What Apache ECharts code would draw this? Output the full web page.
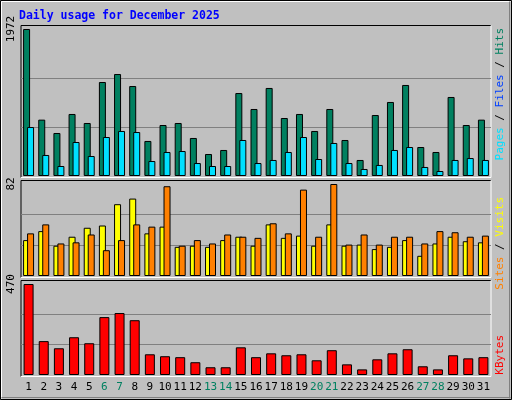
<!DOCTYPE html>
<html><head><meta charset="utf-8">
<script src="https://cdn.jsdelivr.net/npm/echarts@6/dist/echarts.min.js"></script>
<style>html,body{margin:0;padding:0;background:#c0c0c0}#c{width:512px;height:400px}</style>
</head><body><div id="c"></div>
<script>
const days = ['1','2','3','4','5','6','7','8','9','10','11','12','13','14','15','16','17','18','19','20','21','22','23','24','25','26','27','28','29','30','31'];
const weekend = ['6','7','13','14','20','21','27','28'];
const hits = [1972,756,577,832,711,1261,1368,1207,470,684,711,510,295,349,1113,899,1181,778,832,604,899,483,215,818,993,1221,389,322,1060,684,756];
const pages = [657,282,134,456,268,523,604,590,201,322,335,174,134,134,483,174,215,322,523,228,443,174,94,148,349,389,121,67,215,241,215];
const visits = [32,40,27,35,43,45,64,69,38,44,26,27,26,32,35,27,46,34,36,27,46,27,28,24,26,32,18,29,35,31,30];
const sites = [38,46,29,30,37,23,32,46,44,80,27,32,29,37,35,34,47,38,77,35,82,28,37,28,35,35,29,40,39,35,36];
const kbytes = [470,175,138,195,164,299,320,283,107,97,92,66,40,40,143,92,112,102,107,76,128,55,29,81,112,133,45,29,102,86,92];
const maxes = [1972, 82, 470];

const font = '"DejaVu Sans Mono", monospace';
const grids = [
  {left:21, right:21, top:29, height:147},
  {left:21, right:21, top:184, height:92},
  {left:21, right:21, top:284, height:91}
];
const xAxis = grids.map((g,i)=>({
  type:'category', gridIndex:i, data:days, boundaryGap:true,
  axisLine:{show:false}, axisTick:{show:false},
  axisLabel: i===2 ? {show:true, margin:7, fontFamily:font, fontSize:11,
     color:(v)=>weekend.includes(v)?'#008060':'#000000', interval:0} : {show:false}
}));
const yAxis = maxes.map((m,i)=>({
  type:'value', gridIndex:i, min:0, max:m, interval:m/3,
  axisLine:{show:false}, axisTick:{show:false},
  axisLabel:{rotate:90, margin:4, fontFamily:font, fontSize:11, color:'#000',
    showMinLabel:false, showMaxLabel:true,
    formatter:(v)=> Math.abs(v-m)<1e-6 ? String(m) : ''},
  splitLine:{show:true, lineStyle:{color:['transparent','#808080','#808080','transparent'], width:1}}
}));
const bs = (c)=>({color:c, borderColor:'#000', borderWidth:1});
const series = [
  {type:'bar', name:'Hits', xAxisIndex:0, yAxisIndex:0, data:hits, barWidth:7, barGap:'-43%', itemStyle:bs('#008060')},
  {type:'bar', name:'Pages', xAxisIndex:0, yAxisIndex:0, data:pages, barWidth:7, itemStyle:bs('#00e0ff')},
  {type:'bar', name:'Visits', xAxisIndex:1, yAxisIndex:1, data:visits, barWidth:7, barGap:'-43%', itemStyle:bs('#ffff00')},
  {type:'bar', name:'Sites', xAxisIndex:1, yAxisIndex:1, data:sites, barWidth:7, itemStyle:bs('#ff8000')},
  {type:'bar', name:'KBytes', xAxisIndex:2, yAxisIndex:2, data:kbytes, barWidth:10, itemStyle:bs('#ff0000')}
];
const panel = (y,h)=>[
  {type:'line', shape:{x1:21,y1:y,x2:491,y2:y}, style:{stroke:'#000',lineWidth:1}},
  {type:'line', shape:{x1:21,y1:y,x2:21,y2:y+h}, style:{stroke:'#000',lineWidth:1}},
  {type:'line', shape:{x1:21,y1:y+h,x2:491,y2:y+h}, style:{stroke:'#fff',lineWidth:1}},
  {type:'line', shape:{x1:491,y1:y,x2:491,y2:y+h}, style:{stroke:'#fff',lineWidth:1}}
];
const vtext = (x,y,parts)=>({type:'text', x:x, y:y, rotation:Math.PI/2,
  style:{text:parts.map(p=>'{'+p[1]+'|'+p[0]+'}').join(''), fontFamily:font, fontSize:11,
    rich:Object.fromEntries(parts.map(p=>[p[1],{fill:p[2],fontFamily:font,fontSize:11}])),
    align:'right', verticalAlign:'middle'}});
const graphic = [
  {type:'rect', shape:{x:0.5,y:0.5,width:511,height:399}, style:{fill:'none',stroke:'#000',lineWidth:1}},
  {type:'line', shape:{x1:1.5,y1:1.5,x2:510.5,y2:1.5}, style:{stroke:'#fff'}},
  {type:'line', shape:{x1:1.5,y1:1.5,x2:1.5,y2:398.5}, style:{stroke:'#fff'}},
  {type:'line', shape:{x1:1.5,y1:397.5,x2:510.5,y2:397.5}, style:{stroke:'#808080'}},
  {type:'line', shape:{x1:509.5,y1:1.5,x2:509.5,y2:398.5}, style:{stroke:'#808080'}},
  {type:'text', x:19, y:16, style:{text:'Daily usage for December 2025', fill:'#0000ff', fontFamily:font, fontSize:11.5, fontWeight:'bold', verticalAlign:'middle'}},
  ...panel(25.5,152), ...panel(180.5,97), ...panel(280.5,96),
  vtext(500,28,[['Pages','a','#00e0ff'],[' / ','s','#000'],['Files','b','#0040ff'],[' / ','t','#000'],['Hits','c','#008060']]),
  vtext(500,197,[['Sites','a','#ff8000'],[' / ','s','#000'],['Visits','b','#ffff00']]),
  vtext(500,335,[['KBytes','a','#ff0000']])
];
const chart = echarts.init(document.getElementById('c'));
chart.setOption({backgroundColor:'#c0c0c0', animation:false, grid:grids, xAxis, yAxis, series, graphic});
</script></body></html>
